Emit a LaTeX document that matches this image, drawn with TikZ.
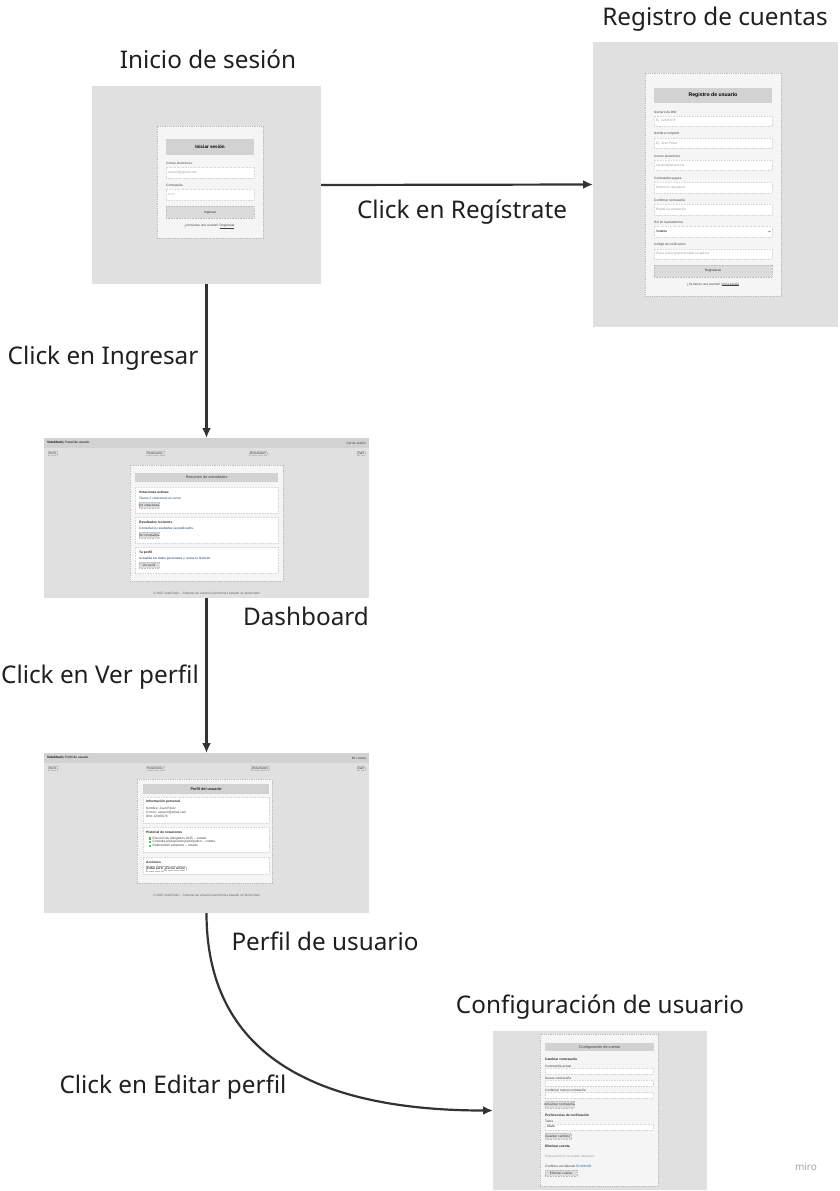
\documentclass[tikz,border=0pt]{standalone}
\usepackage{fontspec}
\setmainfont{Noto Sans}
\newfontfamily\uifont{Liberation Sans}
\usetikzlibrary{calc,arrows.meta}

\definecolor{screengray}{HTML}{E0E0E0}
\definecolor{cardgray}{HTML}{F5F5F5}
\definecolor{bargray}{HTML}{D2D2D2}
\definecolor{edgegray}{HTML}{BDBDBD}
\definecolor{hintgray}{HTML}{9A9A9A}
\definecolor{flowgray}{HTML}{333333}
\definecolor{linkblue}{HTML}{2F5FB3}
\definecolor{okgreen}{HTML}{5CB85C}

% a named box given by two corners (x1,y1) and (x2,y2)
\newcommand{\uibox}[6][]{%
  \node[#1,anchor=north west,inner sep=0pt,outer sep=0pt,
        minimum width={(#5)-(#3)},minimum height={(#6)-(#4)}] (#2) at (#3,#4) {};}
% thin link underline for the tiny texts
\newcommand{\uilink}[1]{\leavevmode\vtop{\hbox{#1}\kern0.25pt\hrule height 0.12pt}}

\begin{document}
\begin{tikzpicture}[x=1pt,y=-1pt]
    % `screen' is the grey page of a capture, `card' the form on it.
    % `field' and `btn' are inputs and buttons, `tiny' their text.
    \tikzstyle{screen} = [fill=screengray]
    \tikzstyle{card} = [fill=cardgray,draw=edgegray,line width=0.4pt,dash pattern=on 1pt off 0.8pt]
    \tikzstyle{bar} = [fill=bargray]
    \tikzstyle{field} = [fill=white,draw=edgegray!60,line width=0.3pt,dash pattern=on 0.8pt off 0.8pt]
    \tikzstyle{btn} = [fill=bargray!80,draw=edgegray,line width=0.3pt,dash pattern=on 0.8pt off 0.8pt]
    \tikzstyle{tiny} = [inner sep=0pt,font=\uifont\fontsize{3.2}{3.6}\selectfont,text=black!75]
    \tikzstyle{tinybold} = [tiny,font=\uifont\bfseries\fontsize{3.3}{3.7}\selectfont,text=black!85]
    \tikzstyle{hint} = [tiny,text=hintgray]
    \tikzstyle{navitem} = [tiny,draw=edgegray,line width=0.2pt,dash pattern=on 0.6pt off 0.6pt,inner sep=0.8pt]
    \tikzstyle{head} = [inner sep=0pt,font=\uifont\bfseries\fontsize{4.6}{5}\selectfont]
    \tikzstyle{caption} = [inner sep=0pt,font=\fontsize{24.3}{28}\selectfont,text=black!88]
    \tikzstyle{flow} = [line width=2.2pt,draw=flowgray,-{Latex[length=10pt,width=9pt]}]
    %
    \useasboundingbox[fill=white] (0,0) rectangle (839,1191);

    % Inicio de sesión
    \uibox[screen]{login}{92}{86}{321}{284}
    \uibox[card]{logincard}{156.7}{125.7}{263}{237.7}
    \uibox[bar]{loginhead}{166}{139}{254}{155}
    \node[head] (logintitle) at (loginhead) {Iniciar sesión};
    \node[tiny,anchor=west] (loginmaillab) at (166,163.5) {Correo electrónico};
    \uibox[field]{loginmail}{166}{166.7}{254}{178.3}
    \node[hint,anchor=west] (loginmailhint) at ($(loginmail.west)+(2,0)$) {usuario@gmail.com};
    \node[tiny,anchor=west] (loginpasslab) at (166,185.5) {Contraseña};
    \uibox[field]{loginpass}{166}{188.7}{254}{200.3}
    \node[hint,anchor=west] (loginpasshint) at ($(loginpass.west)+(2,0)$) {••••••};
    \uibox[btn]{loginbtn}{166}{206.3}{254}{218.3}
    \node[tiny,text=black!85] (loginbtntxt) at (loginbtn) {Ingresar};
    \node[tiny] (loginfoot) at (209.5,226) {¿No tienes una cuenta? \uilink{Regístrate}};

    % Registro de cuentas
    \uibox[screen]{register}{593}{42}{838}{327}
    \uibox[card]{regcard}{644.7}{73.3}{781.3}{296}
    \uibox[bar]{reghead}{654}{88}{772}{103}
    \node[head,font=\uifont\bfseries\fontsize{5.2}{6}\selectfont] (regtitle) at (reghead) {Registro de usuario};
    \foreach \i/\lab/\hin in {0/Número de DNI/Ej. 12345678, 1/Nombre completo/Ej. Juan Pérez,
        2/Correo electrónico/usuario@email.com, 3/Contraseña segura/Mínimo 8 caracteres,
        4/Confirmar contraseña/Repite la contraseña, 6/Código de verificación/Clave única proporcionada (si aplica)}{
      \pgfmathsetmacro{\ty}{112+22.15*\i}
      \node[tiny,anchor=west] (reglab\i) at (654,\ty) {\lab};
      \uibox[field]{regfield\i}{654}{\ty+3.8}{772}{\ty+14.3}
      \node[hint,anchor=west] (reghint\i) at ($(regfield\i.west)+(2,0)$) {\hin};
    }
    \node[tiny,anchor=west] (reglab5) at (654,222.8) {Rol en la plataforma};
    \uibox[field]{regfield5}{654}{226.2}{772}{236.9}
    \node[tiny,anchor=west,text=black] (reghint5) at ($(regfield5.west)+(2,0)$) {Votante};
    \draw[black!80,line width=0.3pt] ($(regfield5.east)+(-3.6,-0.7)$) -- ($(regfield5.east)+(-2.6,0.5)$) -- ($(regfield5.east)+(-1.6,-0.7)$);
    \uibox[btn]{regbtn}{654}{265}{772}{276.7}
    \node[tiny,text=black!85] (regbtntxt) at (regbtn) {Registrarse};
    \node[tiny] (regfoot) at (713,284.3) {¿Ya tienes una cuenta? \uilink{Inicia sesión}};

    % Dashboard
    \uibox[screen]{dash}{44}{438}{369}{598}
    \uibox[bar]{dashbar}{44}{438}{369}{447.7}
    \node[tiny,anchor=west,text=black] (dashbrand) at (47,443) {\textbf{VoteChain} | Panel de usuario};
    \node[tiny,anchor=east] (dashuser) at (366,443) {Cerrar sesión};
    \node[navitem,anchor=west] (dashnav0) at (48,453) {Inicio};
    \node[navitem] (dashnav1) at (155,453) {Votaciones};
    \node[navitem] (dashnav2) at (258,453) {Resultados};
    \node[navitem,anchor=east] (dashnav3) at (365,453) {Salir};
    \uibox[card]{dashcard}{130.3}{465}{282.7}{581}
    \uibox[bar]{dashhead}{135.3}{472.7}{278}{482}
    \node[tiny,font=\uifont\fontsize{3.8}{4.2}\selectfont] (dashtitle) at (dashhead) {Resumen de actividades};
    \foreach \i/\tit/\txt/\bt in {0/Votaciones activas/Tienes 2 votaciones en curso./Ver votaciones,
        1/Resultados recientes/Consulta los resultados ya publicados./Ver resultados,
        2/Tu perfil/Actualiza tus datos personales y revisa tu historial./Ver perfil}{
      \pgfmathsetmacro{\ty}{486.7+30*\i}
      \uibox[field]{dashsec\i}{135.3}{\ty}{278}{\ty+26.6}
      \node[tinybold,anchor=west] (dashtit\i) at (139,\ty+5.5) {\tit};
      \node[tiny,anchor=west,text=linkblue!60!black] (dashtxt\i) at (139,\ty+11.5) {\txt};
      \uibox[btn]{dashbtn\i}{139}{\ty+15.5}{159}{\ty+21.5}
      \node[tiny] (dashbtntxt\i) at (dashbtn\i) {\bt};
    }
    \node[tiny,text=black!60] (dashfoot) at (206.5,593) {© 2025 VoteChain -- Sistema de votación electrónica basado en blockchain};

    % Perfil de usuario
    \uibox[screen]{profile}{44}{753}{369}{913}
    \uibox[bar]{profbar}{44}{753}{369}{763}
    \node[tiny,anchor=west,text=black] (profbrand) at (47,758) {\textbf{VoteChain} | Perfil de usuario};
    \node[tiny,anchor=east] (profuser) at (366,758) {Mi cuenta};
    \node[navitem,anchor=west] (profnav0) at (48,768) {Inicio};
    \node[navitem] (profnav1) at (155,768) {Votaciones};
    \node[navitem] (profnav2) at (260,768) {Resultados};
    \node[navitem,anchor=east] (profnav3) at (365,768) {Salir};
    \uibox[card]{profcard}{136.7}{779.3}{271.7}{883.3}
    \uibox[bar]{profhead}{143}{784}{269}{794}
    \node[tinybold,font=\uifont\bfseries\fontsize{3.8}{4.2}\selectfont] (proftitle) at (profhead) {Perfil del usuario};
    \uibox[field]{profsec0}{143}{796.7}{269}{822.7}
    \node[tinybold,anchor=west] (proftit0) at (146,802) {Información personal};
    \node[tiny,anchor=west] (profline0) at (146,808.5) {Nombre: Juan Pérez};
    \node[tiny,anchor=west] (profline1) at (146,812.5) {Correo: usuario@email.com};
    \node[tiny,anchor=west] (profline2) at (146,816.5) {DNI: 12345678};
    \uibox[field]{profsec1}{143}{826.7}{269}{851.7}
    \node[tinybold,anchor=west] (proftit1) at (146,832) {Historial de votaciones};
    \foreach \i/\vote in {0/Elección de delegados 2025 -- votado,1/Consulta presupuesto participativo -- votado,2/Referéndum estatutos -- votado}{
      \pgfmathsetmacro{\ty}{838.5+3.6*\i}
      \fill[okgreen] (149,\ty-1.2) rectangle (151.4,\ty+1.2);
      \node[tiny,anchor=west] (profvote\i) at (152.5,\ty) {\vote};
    }
    \uibox[field]{profsec2}{143}{856.7}{269}{874}
    \node[tinybold,anchor=west] (proftit2) at (146,862) {Acciones};
    \node[navitem,fill=white,anchor=west,text=black] (profedit) at (146,868.5) {Editar perfil};
    \node[navitem,fill=white,anchor=west,text=black] (profout) at (165,868.5) {Cerrar sesión};
    \node[tiny,text=black!60] (proffoot) at (206.5,895) {© 2025 VoteChain -- Sistema de votación electrónica basado en blockchain};

    % Configuración de usuario
    \uibox[screen]{config}{493}{1031}{707}{1190}
    \uibox[card]{confcard}{540}{1034}{658.3}{1186}
    \uibox[bar]{confhead}{545}{1042.7}{654}{1051.3}
    \node[tiny,font=\uifont\fontsize{3.8}{4.2}\selectfont] (conftitle) at (confhead) {Configuración de cuenta};
    \node[tinybold,anchor=west] (confsub0) at (545,1059) {Cambiar contraseña};
    \foreach \i/\lab in {0/Contraseña actual,1/Nueva contraseña,2/Confirmar nueva contraseña}{
      \pgfmathsetmacro{\ty}{1066+12.15*\i}
      \node[tiny,anchor=west] (conflab\i) at (545,\ty) {\lab};
      \uibox[field]{conffield\i}{545}{\ty+2.3}{653}{\ty+7.8}
    }
    \uibox[btn]{confbtn0}{545}{1101}{573.7}{1107.7}
    \node[tiny] (confbtntxt0) at (confbtn0) {Actualizar contraseña};
    \node[tinybold,anchor=west] (confsub1) at (545,1115) {Preferencias de notificación};
    \node[tiny,anchor=west] (conflab3) at (545,1121.7) {Tema};
    \uibox[field]{conffield3}{545}{1123.7}{653}{1129.7}
    \node[tiny,anchor=west,text=black] (confhint3) at ($(conffield3.west)+(2,0)$) {Claro};
    \uibox[btn]{confbtn1}{545}{1133}{570.7}{1139}
    \node[tiny] (confbtntxt1) at (confbtn1) {Guardar cambios};
    \node[tinybold,anchor=west] (confsub2) at (545,1146.7) {Eliminar cuenta};
    \node[hint,anchor=west] (confwarn) at (545,1156.7) {Esta acción no se puede deshacer.};
    \node[tiny,anchor=west] (confask) at (545,1166) {Confirma escribiendo \textcolor{linkblue}{ELIMINAR}};
    \uibox[btn]{confbtn2}{545}{1170}{577}{1176}
    \node[tiny] (confbtntxt2) at (confbtn2) {Eliminar cuenta};

    % Titles of the screens
    \node[caption] (logincap) at (208,59) {Inicio de sesión};
    \node[caption] (registercap) at (715,19) {Registro de cuentas};
    \node[caption] (dashcap) at (306,616) {Dashboard};
    \node[caption] (profilecap) at (325,941) {Perfil de usuario};
    \node[caption] (configcap) at (600,1007) {Configuración de usuario};

    % Flow between the screens
    \draw[flow] (login.east) -- (register.west);
    \draw[flow] (login.south) -- (dash.north);
    \draw[flow] (dash.south) -- (profile.north);
    \draw[flow] (profile.south) .. controls +(0,140) and +(-180,0) .. (config.west);
    \node[caption] (toregister) at (462,212) {Click en Regístrate};
    \node[caption] (todash) at (103,358) {Click en Ingresar};
    \node[caption] (toprofile) at (100,677) {Click en Ver perfil};
    \node[caption] (toconfig) at (173,1087) {Click en Editar perfil};

    \node[inner sep=0pt,font=\fontsize{10}{12}\selectfont,text=black!35] (watermark) at (806,1167) {miro};
\end{tikzpicture}
\end{document}
